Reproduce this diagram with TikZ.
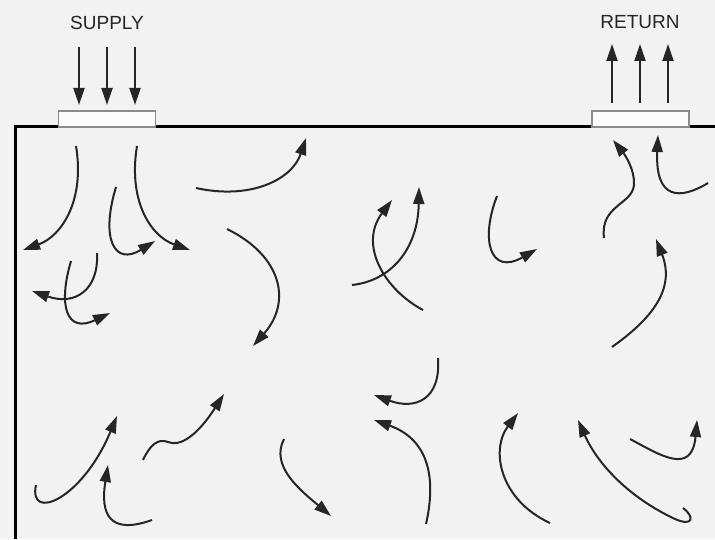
\documentclass[tikz,border=0pt]{standalone}
\usepackage{fontspec}
\setmainfont{Liberation Sans}
\usetikzlibrary{arrows.meta}
\definecolor{paper}{HTML}{F2F2F2}
\definecolor{ink}{HTML}{262626}
\definecolor{grille}{HTML}{8C8C8C}
\begin{document}
\begin{tikzpicture}[x=0.5pt,y=-0.5pt,
  flow/.style={draw=ink,line width=1pt,-{Triangle[length=8.5pt,width=5.5pt]}},
  feed/.style={draw=ink,line width=1pt,-{Triangle[length=8.5pt,width=5.5pt]}},
  wall/.style={draw=black,line width=1.5pt},
  vent/.style={draw=grille,fill=white!70!paper,line width=0.7pt},
  tag/.style={font=\fontsize{9.5pt}{10pt}\selectfont,text=ink,inner sep=0pt}]
% canvas
\fill[paper] (0,0) rectangle (715,539);
\useasboundingbox (0,0) rectangle (715,539);

% room outline: ceiling and left wall
\draw[wall] (15,539) -- (15,127) -- (715,127);

% ceiling diffusers
\draw[vent] (58.5,127) rectangle (155.5,111);
\draw[vent] (592,127) rectangle (689,111);

% labels
\node[tag] (supply) at (107,22.5) {SUPPLY};
\node[tag] (return) at (640,22.5) {RETURN};

% supply air coming in
\foreach \xx in {79,107,135}
  \draw[feed] (\xx,47) -- (\xx,105);
% return air leaving
\foreach \xx in {612,640,668}
  \draw[feed] (\xx,103) -- (\xx,44);

% air movement inside the room
% jets spreading from the supply diffuser
\draw[flow] (76,146) .. controls (85,200) and (62,236) .. (23,250);
\draw[flow] (137,146) .. controls (128,200) and (150,236) .. (190,250);
\draw[flow] (116,187) .. controls (100,240) and (115,266) .. (155,241);
\draw[flow] (196,188) .. controls (250,200) and (292,180) .. (306,138);
\draw[flow] (227,229) .. controls (282,256) and (292,302) .. (253,346);
\draw[flow] (97,253) .. controls (99,290) and (75,306) .. (32,291);
\draw[flow] (71,261) .. controls (58,305) and (66,334) .. (110,313);

% lower left eddies
\draw[flow] (36,485) .. controls (28,522) and (82,500) .. (117,416);
\draw[flow] (152,520) .. controls (110,535) and (100,515) .. (108,465);
\draw[flow] (143,460) .. controls (150,445) and (158,438) .. (168,442)
                      .. controls (180,447) and (197,436) .. (224,394);
\draw[flow] (284,439) .. controls (270,466) and (300,490) .. (331,516);

% middle of the room
\draw[flow] (352,285) .. controls (390,281) and (418,250) .. (419,187);
\draw[flow] (423,310) .. controls (385,290) and (358,245) .. (392,200);
\draw[flow] (497,196) .. controls (480,240) and (490,276) .. (537,249);
\draw[flow] (438,358) .. controls (441,400) and (415,410) .. (374,395);
\draw[flow] (426,524) .. controls (436,480) and (430,440) .. (374,420);
\draw[flow] (550,523) .. controls (500,500) and (490,450) .. (518,413);

% drawn towards the return diffuser
\draw[flow] (604,238) .. controls (600,205) and (632,205) .. (634,185)
                      .. controls (635,170) and (625,155) .. (613,140);
\draw[flow] (708,183) .. controls (680,200) and (655,200) .. (658,135);
\draw[flow] (612,347) .. controls (650,320) and (676,290) .. (656,239);

% lower right eddies
\draw[flow] (683,508) .. controls (695,517) and (693,527) .. (675,519)
                      .. controls (630,498) and (598,465) .. (578,420);
\draw[flow] (630,439) .. controls (660,455) and (692,476) .. (697,420);
\end{tikzpicture}
\end{document}
